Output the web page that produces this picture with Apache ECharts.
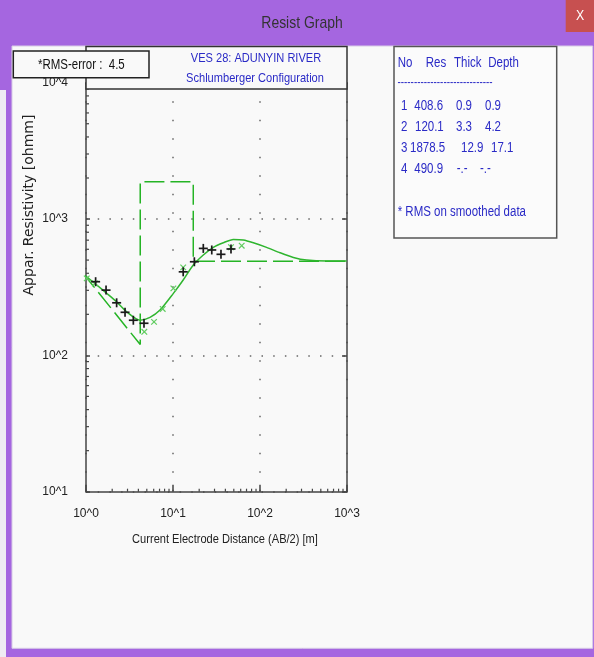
<!DOCTYPE html>
<html>
<head>
<meta charset="utf-8">
<script src="https://cdn.jsdelivr.net/npm/echarts@6/dist/echarts.min.js"></script>
<style>
html,body{margin:0;padding:0;background:#a566e0;}
#c{width:594px;height:657px;}
</style>
</head>
<body>
<div id="c"></div>
<script>
// ---------- data ----------
const xTickLabels = ['10^0', '10^1', '10^2', '10^3'];
const yTickLabels = ['10^1', '10^2', '10^3', '10^4'];

// layer table
const layerNo    = ['1', '2', '3', '4'];
const layerRes   = ['408.6', '120.1', '1878.5', '490.9'];
const layerThick = ['0.9', '3.3', '12.9', '-.-'];
const layerDepth = ['0.9', '4.2', '17.1', '-.-'];

// layered model (dashed line) vertices
const modelAB2 = [0.9, 4.2, 4.2, 17.1, 17.1, 1000];
const modelRho = [408.6, 120.1, 1878.5, 1878.5, 490.9, 490.9];

// computed response curve (solid)
const curveAB2 = [1.02, 1.33, 1.73, 2.25, 2.93, 4.18, 5.44, 7.09, 10.1, 13.1, 17.1, 22.3, 29.1, 37.9, 49.4, 64.3, 83.8, 119, 170, 242, 344, 584, 991];
const curveRho = [377, 328, 285, 247, 209, 181, 190, 215, 285, 357, 460, 545, 620, 670, 709, 702, 670, 620, 566, 523, 500, 492, 492];

// field data (+)
const fieldAB2 = [1.29, 1.70, 2.25, 2.81, 3.50, 4.64, 13.1, 17.6, 22.3, 27.9, 35.6, 46.4];
const fieldRho = [347, 301, 243, 207, 181, 172, 410, 486, 609, 593, 551, 603];

// smoothed / calculated points (x)
const calcAB2 = [1.02, 1.27, 4.68, 6.05, 7.62, 10.1, 13.1, 46.4, 61.6];
const calcRho = [367, 337, 149, 176, 219, 310, 442, 621, 637];

// minor tick values of the log axes
const xMinorTicks = [2,3,4,5,6,7,8,9,20,30,40,50,60,70,80,90,200,300,400,500,600,700,800,900];
const yMinorTicks = [20,30,40,50,60,70,80,90,200,300,400,500,600,700,800,900,2000,3000,4000,5000,6000,7000,8000,9000];

const rmsText = '*RMS-error :  4.5';
const titleLine1 = 'VES 28: ADUNYIN RIVER';
const titleLine2 = 'Schlumberger Configuration';
const tableHeader = ['No', 'Res', 'Thick', 'Depth'];
const tableFoot = '* RMS on smoothed data';
const xTitle = 'Current Electrode Distance (AB/2) [m]';
const yTitle = 'Appar. Resistivity [ohmm]';
const windowTitle = 'Resist Graph';

// ---------- layout / style ----------
const SANS = '"Liberation Sans",Arial,sans-serif';
const NARROW_SCALE = 0.82;
const BG = '#f9f9f9';
const BLUE = '#2a2ac6';
const GREEN = '#25b425';

const headerX = [397.7, 425.7, 454, 488.3];
const rowY = [105.7, 126.7, 147.7, 169];
const colX = [
  [401, 414.3, 456, 485],
  [401, 415, 456, 485],
  [401, 410, 461, 491],
  [401, 414.3, 456.7, 480]
];

// text drawn in a horizontally condensed face (like Arial Narrow)
function txt(x, y, text, style, z) {
  return {
    type: 'text', x: x, y: y, z: z || 200, silent: true, scaleX: NARROW_SCALE,
    style: Object.assign({ text: text, fill: BLUE, font: '14px ' + SANS, align: 'left', verticalAlign: 'middle' }, style || {})
  };
}

function markerSeries(name, xs, ys, kind, color, half, lw) {
  return {
    type: 'custom', name: name, coordinateSystem: 'cartesian2d', z: 6, clip: false,
    data: xs.map(function (x, i) { return [x, ys[i]]; }),
    renderItem: function (params, api) {
      const p = api.coord([api.value(0), api.value(1)]);
      const h = half;
      const segs = kind === 'plus'
        ? [[-h, 0, h, 0], [0, -h, 0, h]]
        : [[-h, -h, h, h], [-h, h, h, -h]];
      return {
        type: 'group',
        children: segs.map(function (s) {
          return { type: 'line', shape: { x1: p[0] + s[0], y1: p[1] + s[1], x2: p[0] + s[2], y2: p[1] + s[3] },
                   style: { stroke: color, lineWidth: lw } };
        })
      };
    }
  };
}

function minorTickSeries(vals, isX) {
  return {
    type: 'custom', coordinateSystem: 'cartesian2d', z: 4, clip: false, silent: true,
    data: vals.map(function (v) { return isX ? [v, 10] : [1, v]; }),
    renderItem: function (params, api) {
      const p = api.coord([api.value(0), api.value(1)]);
      const shape = isX ? { x1: p[0], y1: p[1], x2: p[0], y2: p[1] - 3 }
                        : { x1: p[0], y1: p[1], x2: p[0] + 3, y2: p[1] };
      return { type: 'line', shape: shape, style: { stroke: '#444', lineWidth: 1.2 } };
    }
  };
}

const chart = echarts.init(document.getElementById('c'), null, { renderer: 'canvas' });

const tableTexts = [];
tableHeader.forEach(function (h, i) { tableTexts.push(txt(headerX[i], 62.7, h)); });
tableTexts.push(txt(397.5, 83, '-----------------------------', { font: '12px ' + SANS }));
layerNo.forEach(function (n, r) {
  const vals = [layerNo[r], layerRes[r], layerThick[r], layerDepth[r]];
  vals.forEach(function (v, c) { tableTexts.push(txt(colX[r][c], rowY[r], v)); });
});
tableTexts.push(txt(397.7, 211.7, tableFoot));

const option = {
  backgroundColor: '#a566e0',
  animation: false,
  grid: { left: 86, top: 82.7, width: 261, height: 409, containLabel: false, outerBoundsMode: 'none' },
  xAxis: {
    type: 'log', logBase: 10, min: 1, max: 1000,
    axisLine: { show: true, onZero: false, lineStyle: { color: '#444', width: 1.5 } },
    axisTick: { show: true, inside: true, length: 7, lineStyle: { color: '#444', width: 1.5 } },
    axisLabel: {
      show: true, showMinLabel: true, showMaxLabel: true, margin: 16,
      color: '#222', fontFamily: SANS, fontSize: 12,
      formatter: function (v) { return xTickLabels[Math.round(Math.log10(v))] || ''; }
    },
    splitLine: { show: true, lineStyle: { color: '#666', width: 1.5, type: [1.5, 17] } }
  },
  yAxis: [
    {
      type: 'log', logBase: 10, min: 10, max: 10000, position: 'left',
      axisLine: { show: true, onZero: false, lineStyle: { color: '#444', width: 1.5 } },
      axisTick: { show: true, inside: true, length: 4, lineStyle: { color: '#444', width: 1.5 } },
      axisLabel: {
        show: true, showMinLabel: true, showMaxLabel: true, margin: 18,
        color: '#222', fontFamily: SANS, fontSize: 12, padding: [6, 0, 0, 0],
        formatter: function (v) { return yTickLabels[Math.round(Math.log10(v)) - 1] || ''; }
      },
      splitLine: { show: true, lineStyle: { color: '#666', width: 1.5, type: [1.5, 10.2] } }
    },
    {
      type: 'log', logBase: 10, min: 10, max: 10000, position: 'right',
      axisLine: { show: true, onZero: false, lineStyle: { color: '#444', width: 1.5 } },
      axisTick: { show: true, inside: true, length: 5, lineStyle: { color: '#444', width: 1.5 } },
      axisLabel: { show: false },
      splitLine: { show: false }
    }
  ],
  series: [
    {
      type: 'line', name: 'model', z: 3, clip: true, showSymbol: false, symbol: 'none',
      data: modelAB2.map(function (x, i) { return [x, modelRho[i]]; }),
      lineStyle: { color: GREEN, width: 1.5, type: [20, 6] }
    },
    {
      type: 'line', name: 'response', z: 4, clip: true, showSymbol: false, symbol: 'none', smooth: 0.25,
      data: curveAB2.map(function (x, i) { return [x, curveRho[i]]; }),
      lineStyle: { color: '#2fb52f', width: 1.5 }
    },
    markerSeries('smoothed', calcAB2, calcRho, 'cross', '#5fcc5f', 2.8, 1.2),
    markerSeries('field', fieldAB2, fieldRho, 'plus', '#1a1a1a', 4.5, 1.7),
    minorTickSeries(xMinorTicks, true),
    minorTickSeries(yMinorTicks, false)
  ],
  graphic: {
    elements: [
      // window body
      { type: 'rect', z: -100, silent: true, shape: { x: 12, y: 46, width: 580.7, height: 602.3 }, style: { fill: BG, stroke: '#d8cce6', lineWidth: 1 } },
      { type: 'rect', z: -100, silent: true, shape: { x: 0, y: 90, width: 6, height: 567 }, style: { fill: '#efecf3' } },
      // close button
      { type: 'rect', z: -90, silent: true, shape: { x: 565.7, y: 0, width: 28.3, height: 32 }, style: { fill: '#c75050' } },
      txt(580, 16, 'X', { fill: '#ffffff', font: '15px ' + SANS, align: 'center' }, -80),
      txt(302, 23, windowTitle, { fill: '#333333', font: '17px ' + SANS, align: 'center' }, -80),
      // title box
      { type: 'rect', z: 100, silent: true, shape: { x: 86, y: 46.5, width: 261, height: 42.5 }, style: { fill: BG, stroke: '#333', lineWidth: 1.5 } },
      txt(256, 58, titleLine1, { font: '13.5px ' + SANS, align: 'center' }, 120),
      txt(255, 78.5, titleLine2, { font: '13.5px ' + SANS, align: 'center' }, 120),
      // RMS box
      { type: 'rect', z: 110, silent: true, shape: { x: 13.3, y: 51, width: 135.7, height: 26.7 }, style: { fill: BG, stroke: '#222', lineWidth: 1.5 } },
      txt(38, 65.5, rmsText, { fill: '#111', font: '14px ' + SANS }, 120),
      // table box
      { type: 'rect', z: 100, silent: true, shape: { x: 394, y: 46.5, width: 162.7, height: 191.5 }, style: { fill: '#fbfbfb', stroke: '#555', lineWidth: 1.5 } }
    ].concat(tableTexts).concat([
      // axis titles
      txt(225, 539, xTitle, { fill: '#222', font: '13.5px ' + SANS, align: 'center' }, 50),
      { type: 'text', x: 29, y: 205, rotation: Math.PI / 2, z: 50, silent: true,
        style: { text: yTitle, fill: '#222', font: '14px "DejaVu Sans", sans-serif', align: 'center', verticalAlign: 'middle' } }
    ])
  }
};

chart.setOption(option);
</script>
</body>
</html>
